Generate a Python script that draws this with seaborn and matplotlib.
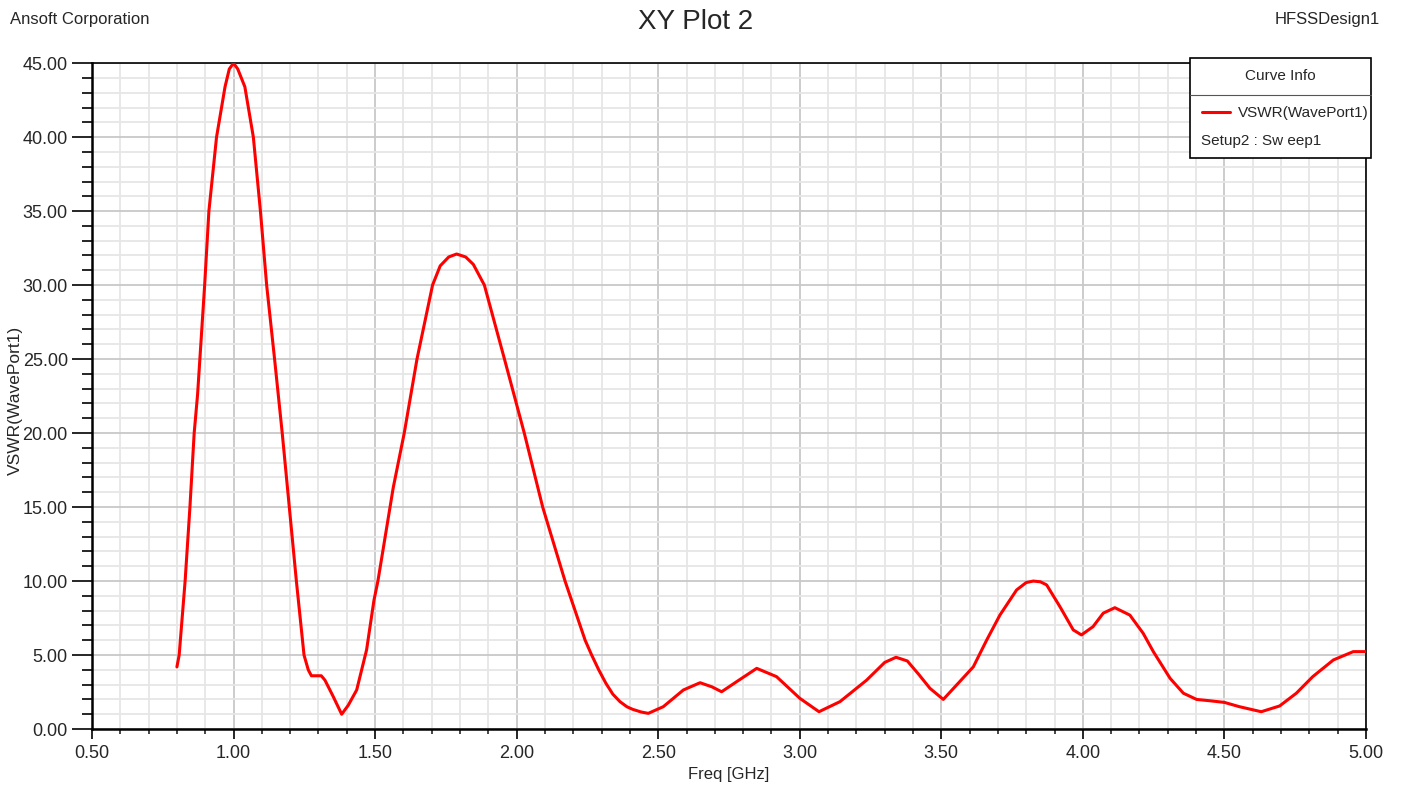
import pandas as pd
import matplotlib.pyplot as plt
import seaborn as sns
from matplotlib.ticker import MultipleLocator, FormatStrFormatter
from matplotlib.patches import Rectangle
from matplotlib.lines import Line2D

# values
freq_ghz = [0.80, 0.808, 0.829, 0.846, 0.861, 0.873, 0.898, 0.913, 0.94, 0.97,
            0.985, 1.00, 1.015, 1.04, 1.07, 1.095, 1.117, 1.145, 1.172, 1.197,
            1.222, 1.249, 1.264, 1.275, 1.31, 1.323, 1.352, 1.382, 1.405, 1.435,
            1.47, 1.496, 1.51, 1.564, 1.603, 1.648, 1.703, 1.73, 1.76, 1.788,
            1.82, 1.847, 1.886, 1.957, 2.027, 2.092, 2.171, 2.242, 2.265, 2.29,
            2.315, 2.34, 2.365, 2.39, 2.41, 2.44, 2.465, 2.518, 2.589, 2.648,
            2.69, 2.724, 2.777, 2.848, 2.918, 3.0, 3.068, 3.142, 3.236, 3.30,
            3.34, 3.38, 3.42, 3.46, 3.507, 3.56, 3.613, 3.66, 3.707, 3.766,
            3.80, 3.825, 3.85, 3.872, 3.919, 3.966, 3.995, 4.036, 4.072, 4.113,
            4.166, 4.213, 4.249, 4.308, 4.355, 4.402, 4.449, 4.50, 4.553, 4.63,
            4.695, 4.754, 4.812, 4.885, 4.955, 5.0]
vswr = [4.2, 5.0, 10.0, 15.0, 20.0, 22.6, 30.0, 35.0, 40.0, 43.4,
        44.6, 45.0, 44.6, 43.4, 40.0, 35.0, 30.0, 25.0, 20.0, 15.0,
        10.0, 5.0, 4.0, 3.6, 3.6, 3.3, 2.2, 1.0, 1.6, 2.64,
        5.35, 8.7, 10.0, 16.3, 20.0, 25.0, 30.0, 31.3, 31.9, 32.1,
        31.9, 31.4, 30.0, 25.0, 20.0, 15.0, 10.0, 6.0, 5.0, 4.0,
        3.1, 2.35, 1.85, 1.5, 1.33, 1.15, 1.06, 1.51, 2.64, 3.13,
        2.85, 2.52, 3.2, 4.1, 3.54, 2.08, 1.17, 1.85, 3.3, 4.5,
        4.85, 4.6, 3.7, 2.75, 2.0, 3.1, 4.2, 6.0, 7.7, 9.4,
        9.9, 10.0, 9.95, 9.74, 8.27, 6.7, 6.36, 6.92, 7.83, 8.2,
        7.7, 6.47, 5.23, 3.43, 2.42, 2.0, 1.91, 1.8, 1.51, 1.17,
        1.56, 2.42, 3.54, 4.67, 5.23, 5.23]

sns.set_style("white")
plt.rcParams['font.family'] = ['Liberation Sans', 'DejaVu Sans']

df = pd.DataFrame({"Freq": freq_ghz, "VSWR": vswr})

fig = plt.figure(figsize=(14.02, 7.89), dpi=100)
ax = fig.add_axes([0.0656, 0.076, 0.9087, 0.844])

sns.lineplot(data=df, x="Freq", y="VSWR", color="#ff0000", linewidth=2.2, ax=ax, zorder=3)

ax.set_xlim(0.5, 5.0)
ax.set_ylim(0, 45)
ax.xaxis.set_major_locator(MultipleLocator(0.5))
ax.xaxis.set_minor_locator(MultipleLocator(0.1))
ax.yaxis.set_major_locator(MultipleLocator(5))
ax.yaxis.set_minor_locator(MultipleLocator(1))
ax.xaxis.set_major_formatter(FormatStrFormatter("%.2f"))
ax.yaxis.set_major_formatter(FormatStrFormatter("%.2f"))

ax.grid(which="major", color="#c8c8c8", linewidth=1.3)
ax.grid(which="minor", color="#e6e6e6", linewidth=1.3)
ax.set_axisbelow(True)

for s in ax.spines.values():
    s.set_color("black")
    s.set_linewidth(1.2)
ax.spines["left"].set_linewidth(1.8)
ax.spines["bottom"].set_linewidth(1.8)

# tick lengths are in points (1 px = 0.72 pt here)
ax.tick_params(axis="y", which="major", length=14.4, width=1.4, direction="out",
               left=True, labelsize=13, pad=3)
ax.tick_params(axis="y", which="minor", length=7.2, width=1.4, direction="out", left=True)
ax.tick_params(axis="x", which="major", length=7.2, width=1.4, direction="out",
               bottom=True, labelsize=13, pad=4)
ax.tick_params(axis="x", which="minor", length=3.6, width=1.2, direction="out", bottom=True)

ax.set_xlabel("Freq [GHz]", fontsize=12, labelpad=4)
ax.set_ylabel("")
fig.text(15 / 1402, 1 - 400 / 789, "VSWR(WavePort1)", rotation=90, ha="center", va="center",
         fontsize=12.5)

fig.text(0.496, 0.972, "XY Plot 2", ha="center", va="center", fontsize=20)
fig.text(0.007, 0.975, "Ansoft Corporation", ha="left", va="center", fontsize=12)
fig.text(0.984, 0.975, "HFSSDesign1", ha="right", va="center", fontsize=12)

# curve info box
x0, x1 = 1190 / 1402, 1371 / 1402
y0, y1 = 1 - 158 / 789, 1 - 58 / 789
fig.patches.append(Rectangle((x0, y0), x1 - x0, y1 - y0, transform=fig.transFigure,
                             facecolor="white", edgecolor="black", linewidth=1.2, zorder=5))
fig.lines.append(Line2D([x0, x1], [1 - 95 / 789] * 2, transform=fig.transFigure,
                        color="#555555", linewidth=0.8, zorder=6))
fig.lines.append(Line2D([1202 / 1402, 1230 / 1402], [1 - 112 / 789] * 2, transform=fig.transFigure,
                        color="#ff0000", linewidth=2.2, zorder=6))
fig.text((x0 + x1) / 2, 1 - 76 / 789, "Curve Info", ha="center", va="center", fontsize=11, zorder=7)
fig.text(1238 / 1402, 1 - 113 / 789, "VSWR(WavePort1)", ha="left", va="center", fontsize=11, zorder=7)
fig.text(1201 / 1402, 1 - 141 / 789, "Setup2 : Sw eep1", ha="left", va="center", fontsize=11, zorder=7)

fig.savefig("out.png", dpi=100)
